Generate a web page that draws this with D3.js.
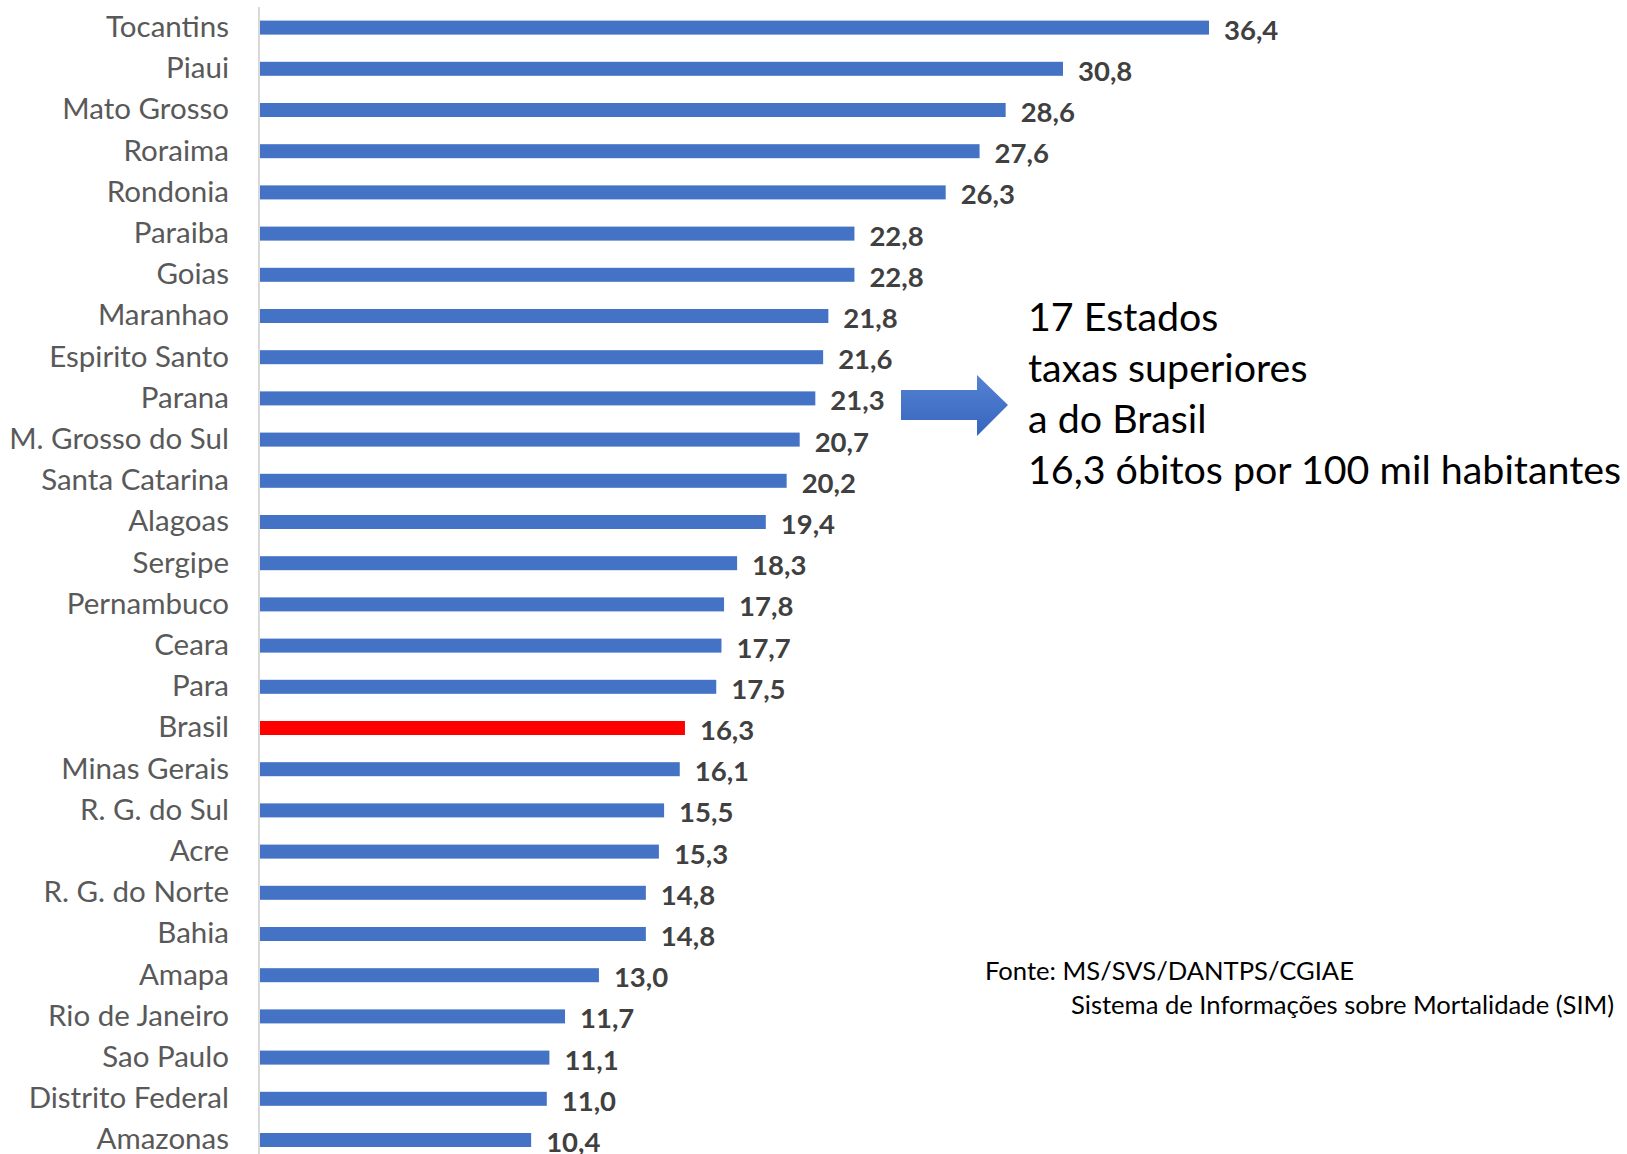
<!DOCTYPE html>
<html>
<head>
<meta charset="utf-8">
<script src="https://cdn.jsdelivr.net/npm/d3@7"></script>
<style>
  body { margin: 0; background: #fff; overflow: hidden; }
  svg { display: block; font-family: Lato, "Noto Sans", sans-serif; }
</style>
</head>
<body>
<svg id="chart"></svg>
<script>
const states = ['Tocantins', 'Piaui', 'Mato Grosso', 'Roraima', 'Rondonia', 'Paraiba', 'Goias',
  'Maranhao', 'Espirito Santo', 'Parana', 'M. Grosso do Sul', 'Santa Catarina', 'Alagoas',
  'Sergipe', 'Pernambuco', 'Ceara', 'Para', 'Brasil', 'Minas Gerais', 'R. G. do Sul', 'Acre',
  'R. G. do Norte', 'Bahia', 'Amapa', 'Rio de Janeiro', 'Sao Paulo', 'Distrito Federal', 'Amazonas'];
const rates = [36.4, 30.8, 28.6, 27.6, 26.3, 22.8, 22.8, 21.8, 21.6, 21.3, 20.7, 20.2, 19.4,
  18.3, 17.8, 17.7, 17.5, 16.3, 16.1, 15.5, 15.3, 14.8, 14.8, 13.0, 11.7, 11.1, 11.0, 10.4];
const highlight = 'Brasil';
const noteLines = ['17 Estados', 'taxas superiores', 'a do Brasil', '16,3 óbitos por 100 mil habitantes'];
const sourceLines = ['Fonte: MS/SVS/DANTPS/CGIAE', 'Sistema de Informações sobre Mortalidade (SIM)'];

const width = 1627, height = 1154;
const axisX = 259;

const svg = d3.select('#chart').attr('width', width).attr('height', height);

const data = states.map((s, i) => ({ name: s, v: rates[i] }));

const x = d3.scaleLinear().domain([0, 36.4]).range([axisX + 1, 1209]);
const y = d3.scaleBand().domain(states).range([7, 7 + 41.2 * states.length]).paddingInner(0.66).paddingOuter(0.33);

svg.selectAll('rect.bar')
  .data(data)
  .join('rect')
  .attr('class', 'bar')
  .attr('x', x(0))
  .attr('y', d => y(d.name))
  .attr('width', d => x(d.v) - x(0))
  .attr('height', y.bandwidth())
  .attr('fill', d => d.name === highlight ? '#FF0000' : '#4472C4');

svg.selectAll('text.val')
  .data(data)
  .join('text')
  .attr('class', 'val')
  .attr('x', d => x(d.v) + 15)
  .attr('y', d => y(d.name) + y.bandwidth() / 2 + 2)
  .attr('dy', '0.36em')
  .style('font-size', '27.5px')
  .style('font-weight', 'bold')
  .style('fill', '#404040')
  .text(d => d3.format('.1f')(d.v).replace('.', ','));

const yAxis = svg.append('g')
  .attr('transform', `translate(${axisX},0)`)
  .call(d3.axisLeft(y).tickSize(0).tickPadding(30));
yAxis.select('.domain').attr('stroke', '#d9d9d9').attr('stroke-width', 2)
  .attr('d', `M0,7V${height}`);
yAxis.selectAll('text')
  .style('font-size', '29.5px')
  .style('font-family', 'Lato, "Noto Sans", sans-serif')
  .style('fill', '#595959')
  .attr('dy', '0.32em');

// arrow
const grad = svg.append('defs').append('linearGradient')
  .attr('id', 'arrowGrad').attr('x1', 0).attr('y1', 0).attr('x2', 0).attr('y2', 1);
grad.append('stop').attr('offset', '0%').attr('stop-color', '#5582D2');
grad.append('stop').attr('offset', '100%').attr('stop-color', '#3565BE');

const arrowPts = [[901, 390], [977, 390], [977, 375], [1008, 405], [977, 436], [977, 420], [901, 420]];
svg.append('path')
  .attr('d', d3.line()(arrowPts) + 'Z')
  .attr('fill', 'url(#arrowGrad)');

svg.append('g').selectAll('text')
  .data(noteLines)
  .join('text')
  .attr('x', 1028)
  .attr('y', (d, i) => 331 + i * 51)
  .style('font-size', '39.4px')
  .style('fill', '#000')
  .text(d => d);

svg.append('g').selectAll('text')
  .data(sourceLines)
  .join('text')
  .attr('x', (d, i) => i === 0 ? 985 : 1071)
  .attr('y', (d, i) => 980 + i * 34)
  .style('font-size', '25.6px')
  .style('fill', '#000')
  .text(d => d);
</script>
</body>
</html>
